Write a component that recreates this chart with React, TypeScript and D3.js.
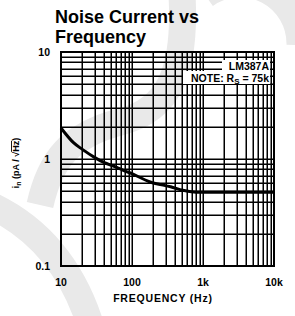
import React from "react";
import * as d3 from "d3";

const freqHz = [10, 15, 20, 30, 40, 60, 80, 100, 180, 350, 520, 800, 1000, 3000, 10000];
const noiseCurrent = [1.95, 1.42, 1.23, 1.03, 0.93, 0.84, 0.77, 0.73, 0.61, 0.55, 0.51, 0.49, 0.49, 0.49, 0.49];
const xTickValues = [10, 100, 1000, 10000];
const xTickLabels = ["10", "100", "1k", "10k"];
const yTickValues = [10, 1, 0.1];
const yTickLabels = ["10", "1", "0.1"];

const W = 295, H = 316;
const L = 61, R = 274, T = 52, B = 266;
const font = "'Liberation Sans Narrow', 'Liberation Sans', Arial, sans-serif";

export default function App() {
  const x = d3.scaleLog().domain([10, 10000]).range([L, R]);
  const y = d3.scaleLog().domain([0.1, 10]).range([B, T]);

  const xGrid: number[] = [];
  for (let d = 10; d < 10000; d *= 10) for (let k = 1; k <= 9; k++) xGrid.push(d * k);
  xGrid.push(10000);
  const yGrid: number[] = [];
  for (let d = 0.1; d < 10; d *= 10) for (let k = 1; k <= 9; k++) yGrid.push(+(d * k).toFixed(3));
  yGrid.push(10);

  const line = d3
    .line<number>()
    .x((_, i) => x(freqHz[i]))
    .y((v) => y(v))
    .curve(d3.curveCatmullRom);

  const snap = (v: number) => Math.round(v) + 0.25;

  return (
    <svg width={W} height={H} style={{ position: "absolute", left: 0, top: 0 }}>
      <rect width={W} height={H} fill="#fff" />
      {/* faint watermark */}
      <g fill="none" stroke="#e9e9e9" strokeWidth={27} strokeLinecap="butt">
        <path d="M -10 205 Q 65 240 92 330" />
        <path d="M 182 -5 C 186 70 170 110 120 122 C 70 135 50 160 40 205" />
        <path d="M 205 -5 A 60 60 0 0 1 300 45" />
      </g>
      <text x={55} y={23} fontFamily="'Liberation Sans', Arial, sans-serif" fontWeight="bold" fontSize={18}>
        Noise Current vs
      </text>
      <text x={55} y={43} fontFamily="'Liberation Sans', Arial, sans-serif" fontWeight="bold" fontSize={18}>
        Frequency
      </text>
      <g stroke="#000" strokeWidth={1.5}>
        {xGrid.map((v, i) => (
          <line key={"x" + i} x1={snap(x(v))} x2={snap(x(v))} y1={T} y2={B} />
        ))}
        {yGrid.map((v, i) => (
          <line key={"y" + i} x1={L} x2={R} y1={snap(y(v))} y2={snap(y(v))} />
        ))}
      </g>
      <rect x={L} y={T} width={R - L} height={B - T} fill="none" stroke="#000" strokeWidth={2} />
      <path d={line(noiseCurrent) || ""} fill="none" stroke="#000" strokeWidth={3} />
      {/* note boxes */}
      <rect x={222} y={60} width={48} height={11} fill="#fff" />
      <rect x={183} y={71} width={87} height={13} fill="#fff" />
      <text x={269} y={70} textAnchor="end" fontFamily={font} fontWeight="bold" fontSize={10.5}>
        LM387A
      </text>
      <text x={269} y={82} textAnchor="end" fontFamily={font} fontWeight="bold" fontSize={10.5}>
        NOTE: R<tspan dy={2} fontSize={8}>S</tspan><tspan dy={-2}> = 75k</tspan>
      </text>
      {yTickValues.map((v, i) => (
        <text key={"yt" + i} x={50} y={y(v) + 3.5} textAnchor="end" fontFamily={font} fontWeight="bold" fontSize={10.5}>
          {yTickLabels[i]}
        </text>
      ))}
      {xTickValues.map((v, i) => (
        <text key={"xt" + i} x={x(v)} y={286} textAnchor="middle" fontFamily={font} fontWeight="bold" fontSize={10.5}>
          {xTickLabels[i]}
        </text>
      ))}
      <text x={163} y={302} textAnchor="middle" fontFamily={font} fontWeight="bold" fontSize={10.5} letterSpacing={0.8}>
        FREQUENCY (Hz)
      </text>
      <text
        transform={`translate(19, 163) rotate(-90)`}
        textAnchor="middle"
        fontFamily={font}
        fontWeight="bold"
        fontSize={9}
      >
        i<tspan dy={1.5} fontSize={7}>n</tspan>
        <tspan dy={-1.5}> (pA / √</tspan>
        <tspan textDecoration="overline">Hz</tspan>)
      </text>
    </svg>
  );
}
